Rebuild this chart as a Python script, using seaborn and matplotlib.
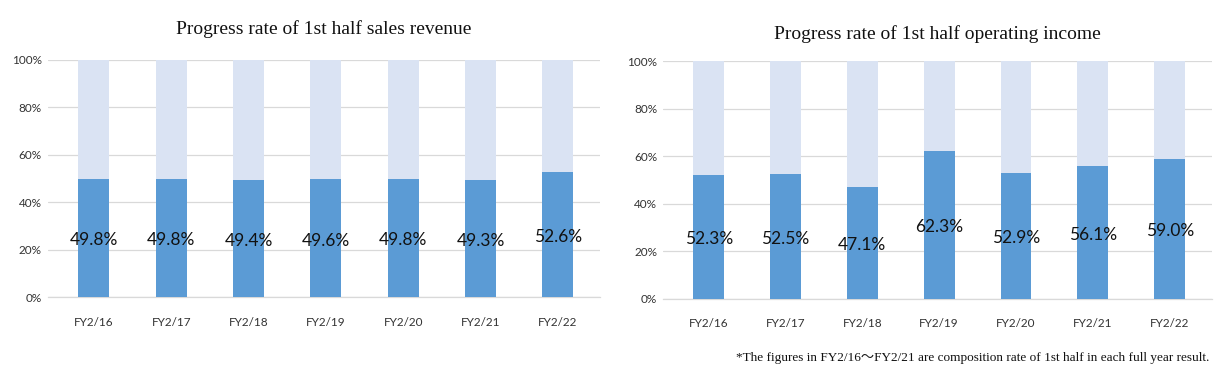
import matplotlib
matplotlib.use("Agg")
import matplotlib.pyplot as plt
import seaborn as sns
import pandas as pd

years = ["FY2/16", "FY2/17", "FY2/18", "FY2/19", "FY2/20", "FY2/21", "FY2/22"]
sales_rate = [49.8, 49.8, 49.4, 49.6, 49.8, 49.3, 52.6]
income_rate = [52.3, 52.5, 47.1, 62.3, 52.9, 56.1, 59.0]
total = [100, 100, 100, 100, 100, 100, 100]
yticks = [0, 20, 40, 60, 80, 100]

titles = ["Progress rate of 1st half sales revenue", "Progress rate of 1st half operating income"]
footnote = "*The figures in FY2/16\uff5eFY2/21 are composition rate of 1st half in each full year result."

sns.set_theme(style="white")
plt.rcParams['font.family'] = ['Lato', 'DejaVu Sans']

BLUE = "#5B9BD5"
LIGHT = "#DAE3F3"
GRID = "#D9D9D9"

fig = plt.figure(figsize=(12.18, 3.77), dpi=100)
ax1 = fig.add_axes([0.039, 0.212, 0.454, 0.629])
ax2 = fig.add_axes([0.544, 0.207, 0.451, 0.631])

for ax, vals, title, pad in [(ax1, sales_rate, titles[0], 19), (ax2, income_rate, titles[1], 16)]:
    df = pd.DataFrame({"year": years, "val": vals, "total": total})
    sns.barplot(data=df, x="year", y="total", color=LIGHT, width=0.4, ax=ax,
                saturation=1, linewidth=0, zorder=2)
    sns.barplot(data=df, x="year", y="val", color=BLUE, width=0.4, ax=ax,
                saturation=1, linewidth=0, zorder=3)
    ax.set_ylim(0, 100)
    ax.set_xlim(-0.6, 6.55)
    ax.set_yticks(yticks)
    ax.set_yticklabels([f"{t}%" for t in yticks], fontsize=8.5, color="#333333")
    ax.tick_params(axis="x", labelsize=8.5, colors="#333333", pad=8)
    ax.tick_params(axis="y", pad=4, length=0)
    ax.set_xlabel("")
    ax.set_ylabel("")
    ax.yaxis.grid(True, color=GRID, linewidth=0.9, zorder=0)
    ax.set_axisbelow(True)
    for s in ["top", "right", "left"]:
        ax.spines[s].set_visible(False)
    ax.spines["bottom"].set_color(GRID)
    ax.spines["bottom"].set_linewidth(0.9)
    for i, v in enumerate(vals):
        ax.text(i, v / 2 - 1, f"{v:.1f}%", ha="center", va="center", fontsize=12.5,
                color="#111111", zorder=5)
    ax.set_title(title, fontsize=14, family="Liberation Serif", pad=pad, color="#111111")

fig.text(0.993, 0.05, footnote, ha="right", va="center", fontsize=9.5,
         family=["Liberation Serif", "Noto Sans CJK JP"], color="#111111")

fig.savefig("out.png", dpi=100, facecolor="white")
